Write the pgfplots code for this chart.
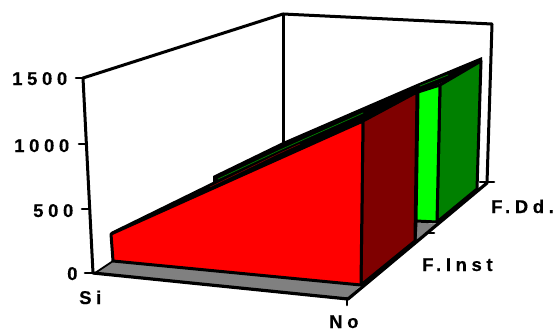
\documentclass[border=0pt]{standalone}
\usepackage{fontspec}
\setmainfont[LetterSpace=25,BoldFont={Liberation Sans Bold},BoldFeatures={FakeBold=0.4}]{Liberation Sans}
\usepackage{pgfplots}
\pgfplotsset{compat=1.18}
\definecolor{grayfloor}{HTML}{808080}
\definecolor{darkred}{HTML}{7F0000}
\definecolor{lime}{HTML}{00FF00}
\definecolor{dgreen}{HTML}{008000}
\tikzset{lbl/.style={anchor=base west,inner sep=0pt,overlay,font=\fontsize{18.5}{20}\selectfont\bfseries}}
\begin{document}
\begin{tikzpicture}
\begin{axis}[hide axis,scale only axis,width=559pt,height=332pt,
  xmin=0,xmax=559,ymin=0,ymax=332,y dir=reverse,clip=true,
  every axis plot/.append style={line join=round,line cap=round}]
% page extent
\addplot[draw=none,fill=white] coordinates {(0,0)(559,0)(559,332)(0,332)} --cycle;
% walls
\addplot[black,line width=3pt] coordinates {(83,78)(283,14)(492,24)(487,183)};
\addplot[black,line width=3pt] coordinates {(83,78)(93,273)};
\addplot[black,line width=3pt] coordinates {(283,14)(283,146)};
% ticks on the value axis
\addplot[black,line width=2.6pt] coordinates {(76,78)(84,78)};
\addplot[black,line width=2.6pt] coordinates {(79,144)(87,144)};
\addplot[black,line width=2.6pt] coordinates {(82,209)(90,209)};
\addplot[black,line width=2.6pt] coordinates {(85,273)(93,273)};
% floor
\addplot[draw=none,fill=grayfloor] coordinates {(95,273)(113,261)(362,284)(348,298)} --cycle;
\addplot[draw=none,fill=grayfloor] coordinates {(416,222)(436,224)(415,241)} --cycle;
\addplot[black,line width=1.8pt] coordinates {(95,273)(113,261)};
\addplot[black,line width=3pt] coordinates {(416,222)(415,241)};
\addplot[black,line width=3.2pt] coordinates {(93,273)(348,299)(487,183)};
% tick marks on the two floor axes
\addplot[black,line width=2.6pt] coordinates {(347,298)(347,305)};
\addplot[black,line width=2.6pt] coordinates {(427,233)(434,233)};
\addplot[black,line width=2.6pt] coordinates {(480,182)(494,182)};
% top band
\addplot[draw=none,fill=black] coordinates {(111,232)(213,182)(213,176)(283,142)(417,84)(482,57)(482,64)(417,94)(362,124)(113,238)} --cycle;
% dark green
\addplot[fill=dgreen,draw=black,line width=3pt] coordinates {(440,85)(481,61)(477,189)(437,222)} --cycle;
% light green
\addplot[fill=lime,draw=black,line width=3pt] coordinates {(418,92)(440,85)(437,222)(416,221)} --cycle;
% dark red
\addplot[fill=darkred,draw=black,line width=3pt] coordinates {(363,121)(417,92)(415,241)(361,285)} --cycle;
% red
\addplot[fill=red,draw=black,line width=3pt] coordinates {(111,234)(363,121)(361,285)(113,261)} --cycle;
% thin lines inside the band
\addplot[dgreen,line width=0.7pt] coordinates {(218,179)(280,150)(363,113)};
\addplot[dgreen,line width=0.7pt] coordinates {(420,86)(448,75)};
\addplot[darkred,line width=0.5pt] coordinates {(210,187)(280,153)(300,144)};
% labels
\node[lbl] at (axis cs:12,85) {1500};
\node[lbl] at (axis cs:14,152) {1000};
\node[lbl] at (axis cs:33,217) {500};
\node[lbl] at (axis cs:67,280) {0};
\node[lbl] at (axis cs:79,304) {Si};
\node[lbl] at (axis cs:329,328) {No};
\node[lbl] at (axis cs:422,271) {F.Inst};
\node[lbl] at (axis cs:491,213) {F.Dd.};
\end{axis}
\end{tikzpicture}
\end{document}
